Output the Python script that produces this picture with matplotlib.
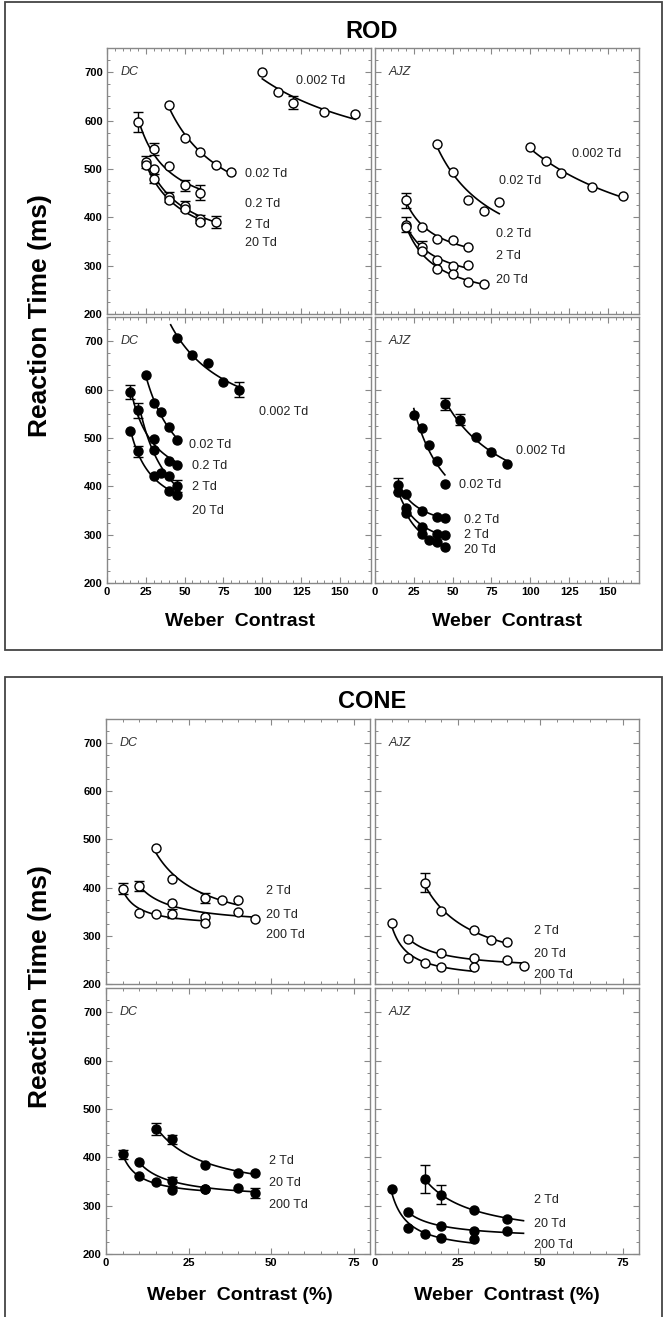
import numpy as np
import matplotlib.pyplot as plt
from matplotlib.patches import Rectangle
from matplotlib.ticker import MultipleLocator

plt.rcParams['font.family'] = ['Liberation Sans', 'DejaVu Sans']

W, H = 665, 1317

rod_xticks = [0, 25, 50, 75, 100, 125, 150]
cone_xticks = [0, 25, 50, 75]
rt_ticks = [200, 300, 400, 500, 600, 700]

# each series: (weber contrast, reaction time ms, error bar ms; 0 = no bar)
rod_dc_open = {
    "0.002 Td": ([100, 110, 120, 140, 160], [700, 658, 637, 618, 613], [0, 0, 14, 0, 0]),
    "0.02 Td": ([40, 50, 60, 70, 80], [632, 563, 535, 509, 494], [0, 0, 0, 0, 0]),
    "0.2 Td": ([20, 30, 40, 50, 60], [597, 541, 505, 466, 451], [20, 12, 0, 12, 15]),
    "2 Td": ([25, 30, 40, 50, 60, 70], [514, 499, 442, 423, 397, 390], [12, 0, 10, 10, 8, 12]),
    "20 Td": ([25, 30, 40, 50, 60], [508, 480, 436, 417, 390], [0, 10, 0, 0, 0]),
}
rod_ajz_open = {
    "0.002 Td": ([100, 110, 120, 140, 160], [546, 516, 492, 462, 445], [0, 0, 0, 0, 0]),
    "0.02 Td": ([40, 50, 60, 70, 80], [552, 493, 436, 412, 431], [0, 0, 0, 0, 0]),
    "0.2 Td": ([20, 30, 40, 50, 60], [435, 380, 355, 354, 338], [15, 0, 0, 0, 0]),
    "2 Td": ([20, 30, 40, 50, 60], [385, 338, 311, 300, 302], [15, 12, 0, 0, 0]),
    "20 Td": ([20, 30, 40, 50, 60, 70], [380, 330, 293, 283, 267, 262], [0, 0, 0, 0, 0, 0]),
}
rod_dc_filled = {
    "0.002 Td": ([45, 55, 65, 75, 85], [707, 672, 655, 616, 600], [0, 0, 0, 0, 15]),
    "0.02 Td": ([25, 30, 35, 40, 45], [630, 572, 553, 522, 495], [0, 0, 0, 0, 0]),
    "0.2 Td": ([15, 20, 30, 40, 45], [595, 557, 497, 452, 445], [15, 15, 0, 0, 0]),
    "2 Td": ([30, 35, 40, 45], [476, 428, 421, 401], [0, 0, 0, 12]),
    "20 Td": ([15, 20, 30, 40, 45], [514, 472, 422, 391, 381], [0, 12, 0, 0, 0]),
}
rod_ajz_filled = {
    "0.002 Td": ([45, 55, 65, 75, 85], [570, 538, 502, 470, 446], [12, 12, 0, 0, 0]),
    "0.02 Td": ([25, 30, 35, 40, 45], [548, 520, 486, 452, 405], [0, 0, 0, 0, 0]),
    "0.2 Td": ([15, 20, 30, 40, 45], [403, 384, 349, 337, 334], [15, 0, 0, 0, 0]),
    "2 Td": ([15, 20, 30, 40, 45], [389, 355, 316, 302, 300], [0, 0, 0, 0, 0]),
    "20 Td": ([20, 30, 35, 40, 45], [345, 302, 288, 285, 275], [0, 0, 0, 0, 0]),
}
cone_dc_open = {
    "2 Td": ([15, 20, 30, 35, 40], [483, 417, 378, 375, 374], [0, 0, 10, 0, 0]),
    "20 Td": ([10, 20, 30, 40, 45], [403, 369, 340, 349, 334], [10, 0, 0, 0, 0]),
    "200 Td": ([5, 10, 15, 20, 30], [398, 348, 346, 346, 327], [12, 0, 0, 10, 0]),
}
cone_ajz_open = {
    "2 Td": ([15, 20, 30, 35, 40], [410, 351, 312, 292, 287], [20, 0, 0, 0, 0]),
    "20 Td": ([10, 20, 30, 40, 45], [294, 264, 253, 249, 237], [0, 0, 0, 0, 0]),
    "200 Td": ([5, 10, 15, 20, 30], [327, 253, 243, 236, 235], [0, 0, 0, 0, 0]),
}
cone_dc_filled = {
    "2 Td": ([15, 20, 30, 40, 45], [459, 437, 384, 368, 368], [12, 10, 0, 0, 0]),
    "20 Td": ([10, 20, 30, 40, 45], [390, 350, 335, 336, 326], [0, 10, 0, 0, 10]),
    "200 Td": ([5, 10, 15, 20, 30], [406, 362, 348, 332, 334], [10, 0, 0, 0, 0]),
}
cone_ajz_filled = {
    "2 Td": ([15, 20, 30, 40], [355, 323, 292, 273], [28, 20, 0, 0]),
    "20 Td": ([10, 20, 30, 40], [287, 257, 247, 247], [0, 0, 0, 0]),
    "200 Td": ([5, 10, 15, 20, 30], [334, 253, 241, 234, 231], [0, 0, 0, 0, 0]),
}

# where the fitted curves start/end when they differ from the data range
curve_span = {
    ("rod_dc_filled", "0.002 Td"): (41, 85),
    ("rod_dc_filled", "2 Td"): (22, 45),
    ("cone_ajz_filled", "2 Td"): (15, 45),
    ("cone_ajz_filled", "20 Td"): (10, 45),
}

# series label positions (data coords, left edge)
label_pos = {
    "rod_dc_open": {"0.002 Td": (122, 682), "0.02 Td": (89, 490), "0.2 Td": (89, 428),
                    "2 Td": (89, 385), "20 Td": (89, 347)},
    "rod_ajz_open": {"0.002 Td": (127, 530), "0.02 Td": (80, 476), "0.2 Td": (78, 365),
                     "2 Td": (78, 320), "20 Td": (78, 271)},
    "rod_dc_filled": {"0.002 Td": (98, 554), "0.02 Td": (53, 486), "0.2 Td": (55, 441),
                      "2 Td": (55, 398), "20 Td": (55, 348)},
    "rod_ajz_filled": {"0.002 Td": (91, 472), "0.02 Td": (54, 402), "0.2 Td": (57, 330),
                       "2 Td": (57, 300), "20 Td": (57, 268)},
    "cone_dc_open": {"2 Td": (48.5, 394), "20 Td": (48.5, 344), "200 Td": (48.5, 301)},
    "cone_ajz_open": {"2 Td": (48.2, 311), "20 Td": (48.2, 262), "200 Td": (48.2, 219)},
    "cone_dc_filled": {"2 Td": (49.5, 393), "20 Td": (49.5, 347), "200 Td": (49.5, 302)},
    "cone_ajz_filled": {"2 Td": (48.2, 312), "20 Td": (48.2, 262), "200 Td": (48.2, 219)},
}

panels = [
    # name, data, filled, observer, (left, top, right, bottom) px, xlim, xticks, first col, bottom row
    ("rod_dc_open", rod_dc_open, False, "DC", (107, 48, 371, 314), 170, rod_xticks, True, False),
    ("rod_ajz_open", rod_ajz_open, False, "AJZ", (375, 48, 639, 314), 170, rod_xticks, False, False),
    ("rod_dc_filled", rod_dc_filled, True, "DC", (107, 317, 371, 583), 170, rod_xticks, True, True),
    ("rod_ajz_filled", rod_ajz_filled, True, "AJZ", (375, 317, 639, 583), 170, rod_xticks, False, True),
    ("cone_dc_open", cone_dc_open, False, "DC", (106, 719, 370, 984), 80, cone_xticks, True, False),
    ("cone_ajz_open", cone_ajz_open, False, "AJZ", (375, 719, 639, 984), 80, cone_xticks, False, False),
    ("cone_dc_filled", cone_dc_filled, True, "DC", (106, 988, 370, 1254), 80, cone_xticks, True, True),
    ("cone_ajz_filled", cone_ajz_filled, True, "AJZ", (375, 988, 639, 1254), 80, cone_xticks, False, True),
]


def px_rect(l, t, r, b):
    return [l / W, 1 - b / H, (r - l) / W, (b - t) / H]


def fit_curve(x, y, lo, hi):
    # Pieron-type fit: RT = a + k / C
    x = np.asarray(x, float)
    A = np.column_stack([np.ones_like(x), 1.0 / x])
    coef = np.linalg.lstsq(A, np.asarray(y, float), rcond=None)[0]
    xs = np.linspace(lo, hi, 120)
    return xs, coef[0] + coef[1] / xs


fig = plt.figure(figsize=(W / 100, H / 100), dpi=100)

for name, data, filled, obs, box, xmax, xticks, first_col, bottom_row in panels:
    ax = fig.add_axes(px_rect(*box))
    for label, (x, y, err) in data.items():
        x = np.array(x, float)
        y = np.array(y, float)
        err = np.array(err, float)
        lo, hi = curve_span.get((name, label), (x.min(), x.max()))
        xs, ys = fit_curve(x, y, lo, hi)
        ax.plot(xs, ys, color='black', lw=1.2, zorder=2)
        m = err > 0
        if m.any():
            ax.errorbar(x[m], y[m], yerr=err[m], fmt='none', ecolor='black',
                        elinewidth=1, capsize=3.5, capthick=1, zorder=3)
        ax.plot(x, y, 'o', ms=6.5, mfc='black' if filled else 'white',
                mec='black', mew=1.0, zorder=4)
        tx, ty = label_pos[name][label]
        ax.text(tx, ty, label, fontsize=9, va='center', ha='left', color='#222222')

    ax.text(0.05, 0.91, obs, transform=ax.transAxes, fontsize=9, style='italic',
            color='#333333', va='center', ha='left')

    ax.set_xlim(0, xmax)
    ax.set_ylim(200, 750)
    ax.set_xticks(xticks)
    ax.set_yticks(rt_ticks)
    ax.xaxis.set_minor_locator(MultipleLocator(5))
    ax.yaxis.set_minor_locator(MultipleLocator(25))
    ax.tick_params(which='both', direction='in', top=True, right=True, color='#888888',
                   labelsize=8, pad=3)
    ax.tick_params(which='major', length=4, width=0.8)
    ax.tick_params(which='minor', length=2.5, width=0.7)
    for lab in ax.get_xticklabels() + ax.get_yticklabels():
        lab.set_fontweight('bold')
    if not first_col:
        ax.set_yticklabels([])
    if not bottom_row:
        ax.set_xticklabels([])
    for sp in ax.spines.values():
        sp.set_color('#888888')
        sp.set_linewidth(1.0)

# section titles, shared axis labels
fig.text(372 / W, 1 - 32 / H, "ROD", fontsize=17, fontweight='bold', ha='center', va='center')
fig.text(372 / W, 1 - 701 / H, "CONE", fontsize=17, fontweight='bold', ha='center', va='center')
for yc in (316, 987):
    fig.text(40 / W, 1 - yc / H, "Reaction Time (ms)", fontsize=19, fontweight='bold',
             rotation=90, ha='center', va='center')
for xc in (240, 507):
    fig.text(xc / W, 1 - 621 / H, "Weber  Contrast", fontsize=14, fontweight='bold',
             ha='center', va='center')
    fig.text(xc / W, 1 - 1295 / H, "Weber  Contrast (%)", fontsize=14, fontweight='bold',
             ha='center', va='center')

# outer frames around each section
fig.add_artist(Rectangle((5 / W, 1 - 650 / H), 657 / W, 648 / H, transform=fig.transFigure,
                         fill=False, edgecolor='#444444', lw=1.3))
fig.add_artist(Rectangle((5 / W, -0.01), 657 / W, (1317 - 677) / H + 0.01,
                         transform=fig.transFigure, fill=False, edgecolor='#444444', lw=1.3))

fig.savefig("out.png", dpi=100)
